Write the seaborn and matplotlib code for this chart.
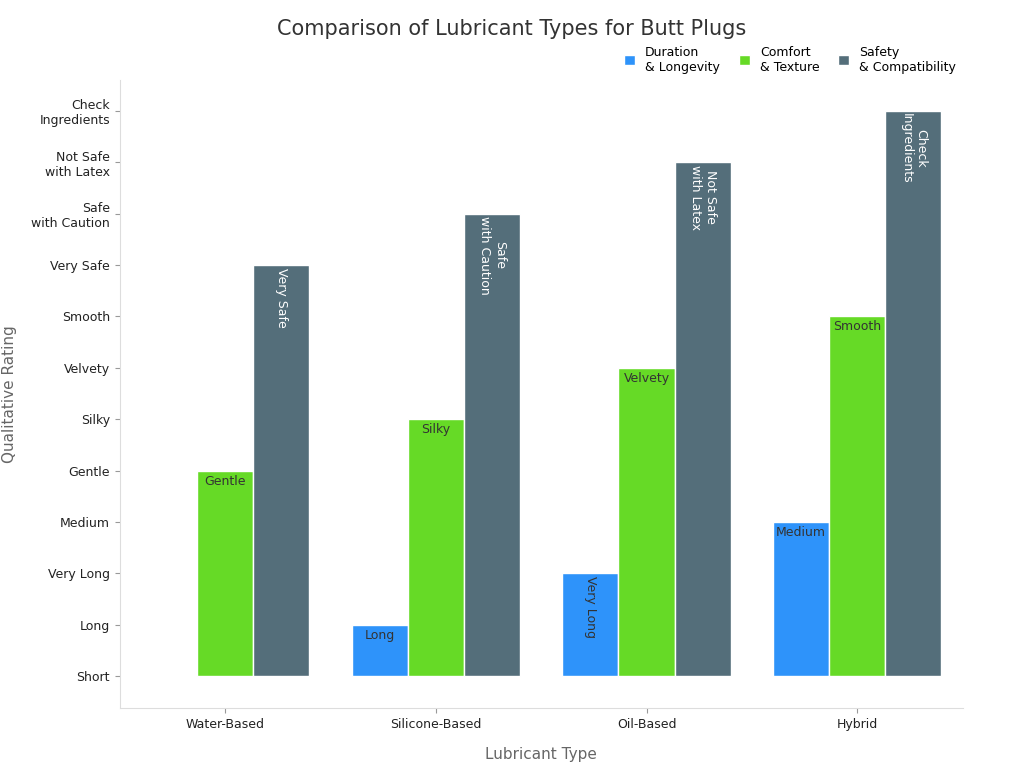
import pandas as pd
import matplotlib.pyplot as plt
import seaborn as sns

# Dados do grafico
lubricants = ["Water-Based", "Silicone-Based", "Oil-Based", "Hybrid"]
levels = ["Short", "Long", "Very Long", "Medium", "Gentle", "Silky", "Velvety",
          "Smooth", "Very Safe", "Safe\nwith Caution", "Not Safe\nwith Latex",
          "Check\nIngredients"]
series = ["Duration\n& Longevity", "Comfort\n& Texture", "Safety\n& Compatibility"]
duration = ["Short", "Long", "Very Long", "Medium"]
comfort = ["Gentle", "Silky", "Velvety", "Smooth"]
safety = ["Very Safe", "Safe\nwith Caution", "Not Safe\nwith Latex", "Check\nIngredients"]

rows = []
for s, vals in zip(series, [duration, comfort, safety]):
    for lub, v in zip(lubricants, vals):
        rows.append({"Lubricant": lub, "Series": s, "Level": v, "Value": levels.index(v)})
df = pd.DataFrame(rows)

colors = ["#2E93FA", "#66DA26", "#546E7A"]
text_colors = ["#333333", "#333333", "white"]

fig = plt.figure(figsize=(10.24, 7.68), dpi=100)
ax = fig.add_axes([0.117, 0.078, 0.823, 0.818])
sns.barplot(data=df, x="Lubricant", y="Value", hue="Series", palette=colors,
            saturation=1, width=0.8, edgecolor="white", linewidth=1, ax=ax)

# Rotulos nas barras
for i, cont in enumerate(ax.containers):
    sub = df[df["Series"] == series[i]]
    for bar, (_, r) in zip(cont, sub.iterrows()):
        if r["Value"] == 0:
            continue
        x = bar.get_x() + bar.get_width() / 2
        top = bar.get_height()
        if len(r["Level"]) > 7:
            ax.text(x, top - 0.05, r["Level"], rotation=-90, ha="center", va="top",
                    color=text_colors[i], fontsize=9)
        else:
            ax.text(x, top - 0.08, r["Level"], ha="center", va="top",
                    color=text_colors[i], fontsize=9)

ax.set_ylim(-0.62, 11.6)
ax.set_yticks(range(len(levels)))
ax.set_yticklabels(levels, fontsize=9, color="#222222")
ax.tick_params(axis="x", labelsize=9, colors="#222222")
ax.tick_params(color="#999999")
ax.set_xlabel("Lubricant Type", fontsize=11, color="#666666", labelpad=12)
ax.set_ylabel("Qualitative Rating", fontsize=11, color="#666666", labelpad=10)
for sp in ["top", "right"]:
    ax.spines[sp].set_visible(False)
for sp in ["left", "bottom"]:
    ax.spines[sp].set_color("#dddddd")

fig.suptitle("Comparison of Lubricant Types for Butt Plugs", x=0.5, y=0.975,
             fontsize=15, color="#333333")
ax.legend(loc="lower right", bbox_to_anchor=(1.0, 1.0), ncol=3, frameon=False,
          fontsize=9, handlelength=0.9, handleheight=0.9, columnspacing=1.5,
          borderaxespad=0.1)

plt.savefig("out.png", dpi=100)
